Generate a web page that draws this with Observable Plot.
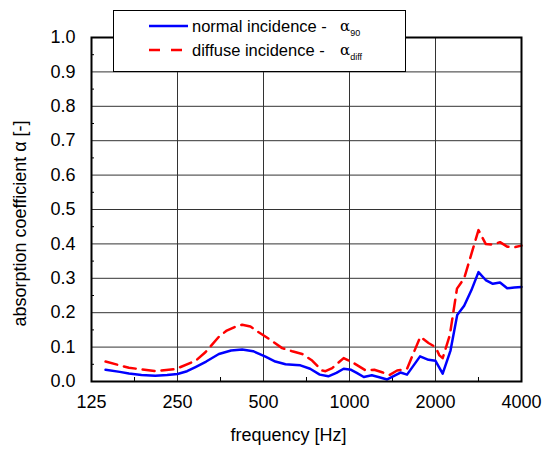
<!DOCTYPE html>
<html>
<head>
<meta charset="utf-8">
<script src="https://cdn.jsdelivr.net/npm/d3@7"></script>
<script src="https://cdn.jsdelivr.net/npm/@observablehq/plot@0.6"></script>
<style>
  html, body { margin: 0; padding: 0; background: #fff; }
  #wrap { position: relative; width: 543px; height: 452px; font-family: "Liberation Sans", Arial, sans-serif; }
  #legend { position: absolute; left: 113px; top: 10px; width: 293px; height: 62px; box-sizing: border-box;
            border: 1.5px solid #000; background: #fff; font-size: 16.5px; color: #000; }
  .row { position: absolute; left: 0; height: 20px; width: 100%; }
  .row svg { position: absolute; left: 35px; top: 4px; }
  .lab { position: absolute; left: 78px; top: 0; white-space: nowrap; line-height: 20px; }
  .sym { position: absolute; left: 226px; top: 0; line-height: 20px; font-family: "DejaVu Serif", serif; font-size: 15px; }
  .sym sub { font-family: "Liberation Sans", Arial, sans-serif; font-size: 9px; vertical-align: -5px; }
</style>
</head>
<body>
<div id="wrap">
  <div id="chart"></div>
  <div id="legend"></div>
</div>
<script>
// Normal incidence (alpha_90)
const freqNormal = [140, 157, 169, 187, 209, 230, 250, 270, 289, 315, 349, 385, 421, 460, 508, 550, 597, 650, 673, 728, 787, 843, 900, 954, 1013, 1060, 1122, 1197, 1262, 1355, 1508, 1590, 1766, 1890, 2000, 2119, 2257, 2382, 2520, 2670, 2828, 2997, 3175, 3364, 3564, 3776, 4000];
const alphaNormal = [0.034, 0.028, 0.023, 0.019, 0.017, 0.019, 0.022, 0.030, 0.042, 0.058, 0.080, 0.090, 0.093, 0.088, 0.072, 0.058, 0.050, 0.048, 0.047, 0.037, 0.020, 0.015, 0.025, 0.037, 0.034, 0.025, 0.013, 0.018, 0.013, 0.006, 0.026, 0.020, 0.073, 0.063, 0.060, 0.023, 0.090, 0.193, 0.220, 0.265, 0.318, 0.295, 0.284, 0.288, 0.271, 0.273, 0.275];

// Diffuse incidence (alpha_diff)
const freqDiffuse = [140, 169, 209, 246, 289, 313, 349, 370, 400, 421, 450, 481, 522, 581, 630, 683, 740, 801, 824, 870, 954, 1022, 1140, 1221, 1300, 1380, 1468, 1590, 1680, 1770, 1890, 2000, 2064, 2119, 2245, 2378, 2520, 2670, 2828, 2997, 3175, 3364, 3564, 3776, 4000];
const alphaDiffuse = [0.058, 0.040, 0.030, 0.036, 0.060, 0.085, 0.130, 0.147, 0.160, 0.165, 0.160, 0.143, 0.124, 0.097, 0.088, 0.080, 0.061, 0.032, 0.030, 0.039, 0.068, 0.056, 0.032, 0.034, 0.027, 0.019, 0.032, 0.037, 0.085, 0.130, 0.112, 0.100, 0.076, 0.068, 0.135, 0.270, 0.300, 0.370, 0.440, 0.400, 0.398, 0.405, 0.392, 0.390, 0.395];

const xTicks = [125, 250, 500, 1000, 2000, 4000];
const xGrid = [250, 500, 1000, 2000];
const xMinor = [176.8, 353.6, 707.1, 1414.2, 2828.4];
const yTicks = [0, 0.1, 0.2, 0.3, 0.4, 0.5, 0.6, 0.7, 0.8, 0.9, 1.0];
const yMinor = [0.05, 0.15, 0.25, 0.35, 0.45, 0.55, 0.65, 0.75, 0.85, 0.95];

const seriesNames = ["normal incidence -", "diffuse incidence -"];
const seriesSub = ["90", "diff"];
const seriesColors = ["#0000ff", "#ff0000"];

const normal = freqNormal.map((f, i) => ({f, a: alphaNormal[i]}));
const diffuse = freqDiffuse.map((f, i) => ({f, a: alphaDiffuse[i]}));

const font = "'Liberation Sans', Arial, sans-serif";

const chart = Plot.plot({
  width: 543,
  height: 452,
  marginLeft: 91,
  marginRight: 22,
  marginTop: 37,
  marginBottom: 71,
  style: {fontFamily: font, fontSize: "18px", color: "#000", background: "#fff"},
  x: {type: "log", domain: [125, 4000], axis: null},
  y: {domain: [0, 1], axis: null},
  marks: [
    Plot.gridX(xGrid, {stroke: "#333", strokeOpacity: 1, strokeWidth: 1}),
    Plot.gridY(yTicks, {stroke: "#333", strokeOpacity: 1, strokeWidth: 1}),
    Plot.tickX(xMinor, {x: d => d, insetTop: 340, stroke: "#000"}),
    Plot.tickY(yMinor, {y: d => d, insetRight: 427, stroke: "#000"}),
    Plot.text(xTicks, {x: d => d, frameAnchor: "bottom", dy: 26, text: d => String(d), fontSize: 18, fill: "#000"}),
    Plot.text(yTicks, {y: d => d, frameAnchor: "left", textAnchor: "end", dx: -16, text: d => d.toFixed(1), fontSize: 18, fill: "#000"}),
    Plot.line(diffuse, {x: "f", y: "a", stroke: seriesColors[1], strokeWidth: 2.5, strokeDasharray: "12,7"}),
    Plot.line(normal, {x: "f", y: "a", stroke: seriesColors[0], strokeWidth: 2.5}),
    Plot.frame({stroke: "#000", strokeWidth: 2}),
    Plot.text(["frequency [Hz]"], {frameAnchor: "bottom", dy: 59, dx: -18, fontSize: 18}),
    Plot.text(["absorption coefficient α [-]"], {frameAnchor: "left", textAnchor: "middle", rotate: -90, dx: -71, dy: 14, fontSize: 18})
  ]
});
document.getElementById("chart").appendChild(chart);

// Legend
const legend = document.getElementById("legend");
seriesNames.forEach((name, i) => {
  const row = document.createElement("div");
  row.className = "row";
  row.style.top = (i === 0 ? 5 : 29) + "px";
  const dash = i === 1 ? 'stroke-dasharray="11,11"' : '';
  row.innerHTML =
    `<svg width="40" height="12"><line x1="0" y1="6" x2="39" y2="6" stroke="${seriesColors[i]}" stroke-width="2.5" ${dash}/></svg>` +
    `<span class="lab">${name}</span>` +
    `<span class="sym">α<sub>${seriesSub[i]}</sub></span>`;
  legend.appendChild(row);
});
</script>
</body>
</html>
